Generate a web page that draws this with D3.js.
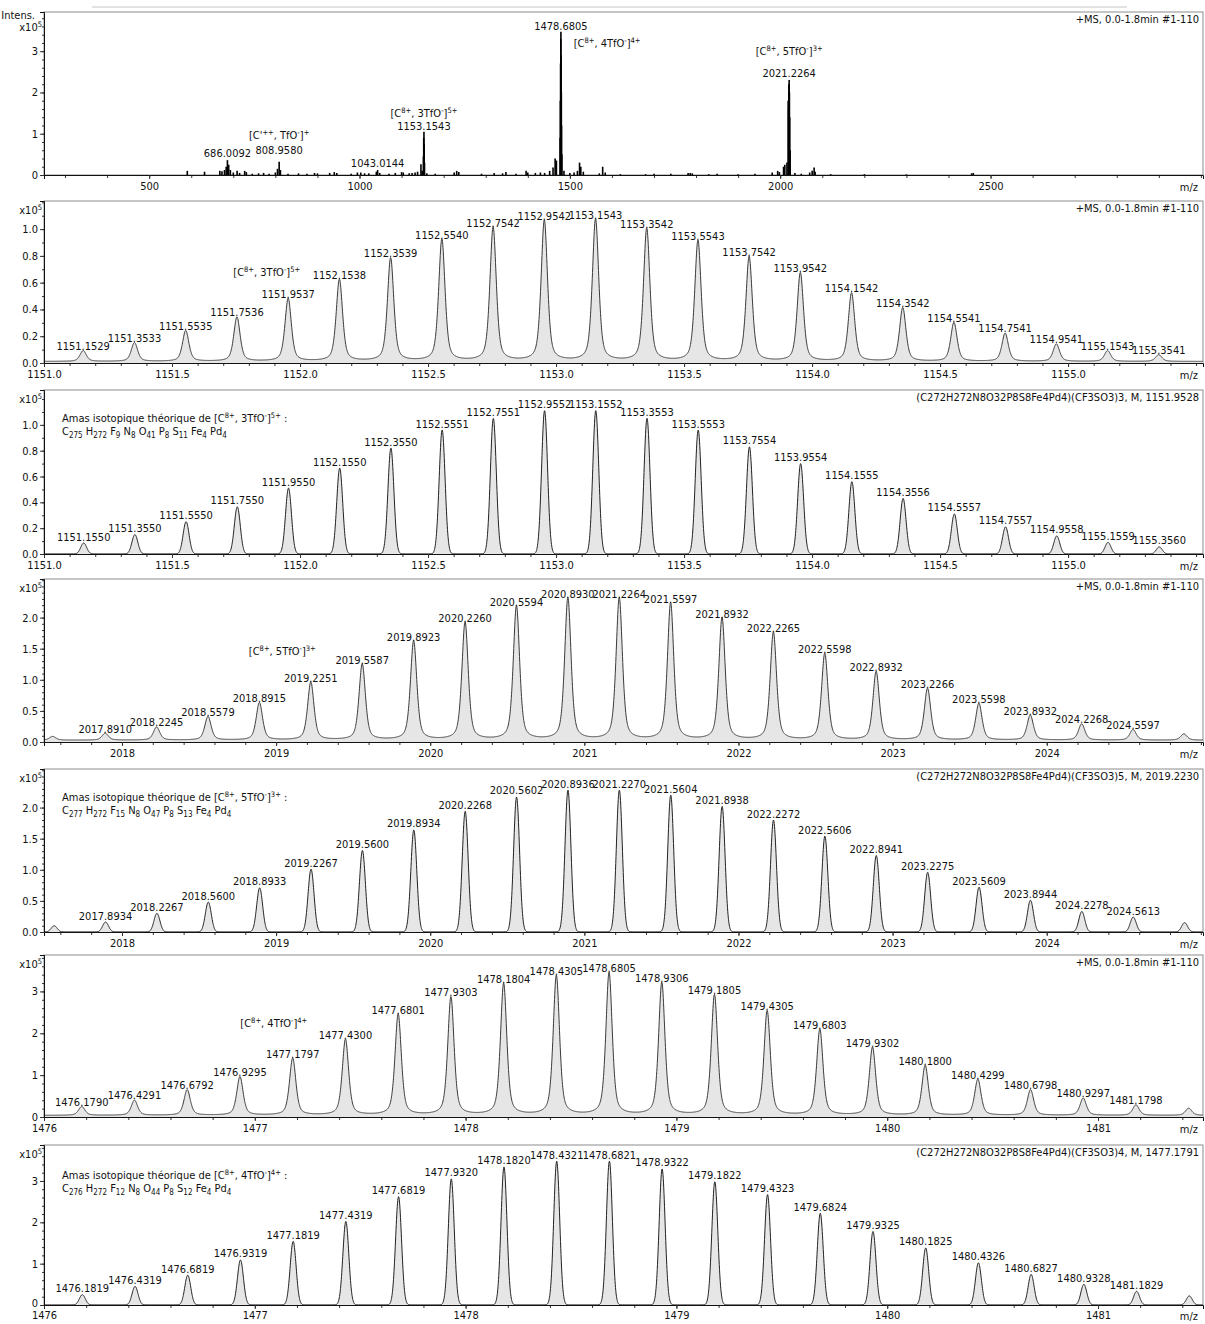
<!DOCTYPE html>
<html><head><meta charset="utf-8">
<script src="https://cdn.jsdelivr.net/npm/d3@7"></script>
<style>
body{margin:0;background:#fff}
svg text{font-family:"DejaVu Sans Condensed","Liberation Sans",sans-serif;font-size:11px;fill:#111}
</style>
</head><body>
<svg id="c" width="1205" height="1324"></svg>
<script>
// ---------------- DATA ----------------
// Panel 1: full spectrum (m/z, intensity x1e5)
const ovMz = [590.6,631.6,668,673,679,683,686.0,689,693,700,709,715,727,731,745,760,772,785,800,805,809.0,812,830,855,875,893,900,929,940,946,980,995,1003,1012,1022,1040,1043.0,1048,1070,1085,1100,1104,1118,1125,1132,1138,1146,1149,1151.9,1152.6,1153.15,1153.8,1154.5,1160,1180,1225,1231,1236,1290,1320,1340,1348,1372,1396,1400,1418,1430,1440,1452,1460,1465,1468,1476.9,1477.4,1477.9,1478.4,1478.68,1479.2,1479.7,1480.2,1481,1486,1500,1510,1518,1523,1526,1532,1570,1578,1584,1620,1680,1700,1740,1781,1786,1791,1830,1850,1900,1940,1981,1994,1998,2008,2011,2016,2018.9,2019.9,2020.6,2021.23,2021.9,2022.6,2023.6,2035,2050,2070,2076,2080.6,2083,2120,2200,2300,2455,2459];
const ovInt = [0.10,0.08,0.10,0.09,0.12,0.20,0.36,0.25,0.12,0.06,0.10,0.05,0.10,0.07,0.03,0.04,0.05,0.03,0.06,0.15,0.32,0.12,0.03,0.04,0.03,0.05,0.04,0.05,0.07,0.05,0.03,0.06,0.06,0.04,0.04,0.08,0.12,0.05,0.03,0.05,0.07,0.06,0.04,0.05,0.06,0.08,0.26,0.10,0.45,0.90,1.05,0.75,0.30,0.04,0.03,0.06,0.10,0.07,0.03,0.05,0.04,0.07,0.03,0.10,0.06,0.05,0.06,0.05,0.10,0.18,0.40,0.35,0.90,1.80,2.70,3.30,3.47,2.90,2.00,1.20,0.50,0.10,0.05,0.06,0.10,0.30,0.20,0.08,0.04,0.20,0.06,0.02,0.02,0.03,0.03,0.05,0.05,0.04,0.02,0.03,0.02,0.03,0.06,0.10,0.07,0.20,0.25,0.30,1.80,1.60,2.20,2.30,2.00,1.40,0.60,0.05,0.03,0.06,0.10,0.18,0.08,0.02,0.02,0.015,0.04,0.05];
const ovLabelMz = [686.0092,808.958,808.958,1043.0144,1153.1543,1153.1543,1478.6805,1509,2021.2264,2021.2264];
const ovLabelY  = [0.44,0.51,0.87,0.19,1.09,1.40,3.52,3.10,2.37,2.91];
const ovLabelText = ["686.0092","808.9580","[C'{++}, TfO{-}]{+}","1043.0144","1153.1543","[C{8+}, 3TfO{-}]{5+}","1478.6805","[C{8+}, 4TfO{-}]{4+}","2021.2264","[C{8+}, 5TfO{-}]{3+}"];
const ovLabelAnchor = ["middle","middle","middle","middle","middle","middle","middle","start","middle","middle"];

// Panel 2: experimental [C8+,3TfO-]5+
const p2Mz = [1151.1529,1151.3533,1151.5535,1151.7536,1151.9537,1152.1538,1152.3539,1152.5540,1152.7542,1152.9542,1153.1543,1153.3542,1153.5543,1153.7542,1153.9542,1154.1542,1154.3542,1154.5541,1154.7541,1154.9541,1155.1543,1155.3541];
const p2Int = [0.08,0.14,0.23,0.33,0.47,0.61,0.77,0.91,1.00,1.05,1.06,0.99,0.90,0.78,0.66,0.51,0.40,0.29,0.21,0.13,0.08,0.05];
// Panel 3: theoretical [C8+,3TfO-]5+
const p3Mz = [1151.1550,1151.3550,1151.5550,1151.7550,1151.9550,1152.1550,1152.3550,1152.5551,1152.7551,1152.9552,1153.1552,1153.3553,1153.5553,1153.7554,1153.9554,1154.1555,1154.3556,1154.5557,1154.7557,1154.9558,1155.1559,1155.3560];
const p3Int = [0.085,0.15,0.25,0.365,0.51,0.665,0.82,0.96,1.05,1.11,1.11,1.05,0.96,0.83,0.70,0.56,0.43,0.31,0.21,0.14,0.09,0.055];
// Panel 4: experimental [C8+,5TfO-]3+
const p4Mz = [2017.55,2017.8910,2018.2245,2018.5579,2018.8915,2019.2251,2019.5587,2019.8923,2020.2260,2020.5594,2020.8930,2021.2264,2021.5597,2021.8932,2022.2265,2022.5598,2022.8932,2023.2266,2023.5598,2023.8932,2024.2268,2024.5597,2024.89];
const p4Int = [0.06,0.11,0.21,0.38,0.60,0.93,1.22,1.59,1.89,2.15,2.28,2.28,2.20,1.96,1.73,1.39,1.10,0.83,0.59,0.40,0.26,0.17,0.10];
const p4Lab = [false,true,true,true,true,true,true,true,true,true,true,true,true,true,true,true,true,true,true,true,true,true,false];
// Panel 5: theoretical [C8+,5TfO-]3+
const p5Mz = [2017.56,2017.8934,2018.2267,2018.5600,2018.8933,2019.2267,2019.5600,2019.8934,2020.2268,2020.5602,2020.8936,2021.2270,2021.5604,2021.8938,2022.2272,2022.5606,2022.8941,2023.2275,2023.5609,2023.8944,2024.2278,2024.5613,2024.8946];
const p5Int = [0.10,0.16,0.30,0.48,0.71,1.01,1.31,1.64,1.94,2.17,2.28,2.28,2.20,2.02,1.80,1.54,1.23,0.96,0.72,0.51,0.33,0.24,0.15];
const p5Lab = [false,true,true,true,true,true,true,true,true,true,true,true,true,true,true,true,true,true,true,true,true,true,false];
// Panel 6: experimental [C8+,4TfO-]4+
const p6Mz = [1476.1790,1476.4291,1476.6792,1476.9295,1477.1797,1477.4300,1477.6801,1477.9303,1478.1804,1478.4305,1478.6805,1478.9306,1479.1805,1479.4305,1479.6803,1479.9302,1480.1800,1480.4299,1480.6798,1480.9297,1481.1798,1481.43];
const p6Int = [0.21,0.36,0.61,0.92,1.36,1.81,2.41,2.82,3.14,3.33,3.40,3.16,2.87,2.49,2.05,1.62,1.19,0.86,0.61,0.41,0.25,0.17];
const p6Lab = [true,true,true,true,true,true,true,true,true,true,true,true,true,true,true,true,true,true,true,true,true,false];
// Panel 7: theoretical [C8+,4TfO-]4+
const p7Mz = [1476.1819,1476.4319,1476.6819,1476.9319,1477.1819,1477.4319,1477.6819,1477.9320,1478.1820,1478.4321,1478.6821,1478.9322,1479.1822,1479.4323,1479.6824,1479.9325,1480.1825,1480.4326,1480.6827,1480.9328,1481.1829,1481.4330];
const p7Int = [0.25,0.45,0.72,1.09,1.54,2.02,2.62,3.05,3.34,3.48,3.48,3.29,2.98,2.67,2.22,1.78,1.38,1.02,0.74,0.50,0.33,0.22];
const p7Lab = [true,true,true,true,true,true,true,true,true,true,true,true,true,true,true,true,true,true,true,true,true,false];

// Axis ticks
const p1XTicks = [500,1000,1500,2000,2500];
const p1YTicks = [0,1,2,3];
const p23XTicks = [1151.0,1151.5,1152.0,1152.5,1153.0,1153.5,1154.0,1154.5,1155.0];
const p23YTicks = [0.0,0.2,0.4,0.6,0.8,1.0];
const p45XTicks = [2018,2019,2020,2021,2022,2023,2024];
const p45YTicks = [0.0,0.5,1.0,1.5,2.0];
const p67XTicks = [1476,1477,1478,1479,1480,1481];
const p67YTicks = [0,1,2,3];

// Header texts
const msHeader = "+MS, 0.0-1.8min #1-110";
const th3Header = "(C272H272N8O32P8S8Fe4Pd4)(CF3SO3)3, M, 1151.9528";
const th5Header = "(C272H272N8O32P8S8Fe4Pd4)(CF3SO3)5, M, 2019.2230";
const th4Header = "(C272H272N8O32P8S8Fe4Pd4)(CF3SO3)4, M, 1477.1791";
const amas3 = "Amas isotopique théorique de [C{8+}, 3TfO{-}]{5+} :";
const amas5 = "Amas isotopique théorique de [C{8+}, 5TfO{-}]{3+} :";
const amas4 = "Amas isotopique théorique de [C{8+}, 4TfO{-}]{4+} :";
const form3 = "C275 H272 F9 N8 O41 P8 S11 Fe4 Pd4";
const form5 = "C277 H272 F15 N8 O47 P8 S13 Fe4 Pd4";
const form4 = "C276 H272 F12 N8 O44 P8 S12 Fe4 Pd4";
const ion3 = "[C{8+}, 3TfO{-}]{5+}";
const ion5 = "[C{8+}, 5TfO{-}]{3+}";
const ion4 = "[C{8+}, 4TfO{-}]{4+}";

// ---------------- DRAWING ----------------
const svg = d3.select("#c");
const LEFT = 44, RIGHT = 1203;

function richSup(sel, str){
  const re = /([^{}]+)|\{([^}]*)\}/g; let m, shift = 0;
  while((m = re.exec(str))){
    if(m[1] !== undefined){ sel.append("tspan").attr("dy", -shift).text(m[1]); shift = 0; }
    else { const t = -4; sel.append("tspan").attr("dy", t - shift).style("font-size","7.5px").text(m[2]); shift = t; }
  }
}
function richSub(sel, str){
  const re = /([^0-9]+)|([0-9]+)/g; let m, shift = 0;
  while((m = re.exec(str))){
    if(m[1] !== undefined){ sel.append("tspan").attr("dy", -shift).text(m[1]); shift = 0; }
    else { const t = 2.5; sel.append("tspan").attr("dy", t - shift).style("font-size","8px").text(m[2]); shift = t; }
  }
}

function frame(cfg){
  const x = d3.scaleLinear().domain(cfg.xDomain).range([LEFT, RIGHT]);
  const y = d3.scaleLinear().domain(cfg.yDomain).range([cfg.bottom, cfg.top]);
  const pad = cfg.pad === undefined ? 3 : cfg.pad;
  const g = svg.append("g");
  g.append("rect").attr("x",LEFT).attr("y",cfg.top).attr("width",RIGHT-LEFT).attr("height",cfg.bottom-cfg.top)
    .attr("fill","none").attr("stroke","#8c8c8c").attr("stroke-width",1);
  const clipId = "clip"+cfg.top;
  svg.append("clipPath").attr("id",clipId).append("rect").attr("x",LEFT).attr("y",cfg.top).attr("width",RIGHT-LEFT).attr("height",cfg.bottom-cfg.top);
  const plot = g.append("g").attr("clip-path","url(#"+clipId+")");
  const xMinor = d3.range(Math.ceil(cfg.xDomain[0]/cfg.xMinor)*cfg.xMinor, cfg.xDomain[1], cfg.xMinor);
  const yMinor = d3.range(0, cfg.yDomain[1], cfg.yMinor);
  const ax = g.append("g").attr("transform",`translate(0,${cfg.bottom})`);
  ax.append("g").call(d3.axisBottom(x).tickValues(xMinor).tickSize(3).tickFormat("")).call(s=>s.select(".domain").remove());
  ax.append("g").call(d3.axisBottom(x).tickValues(cfg.xTicks).tickSize(4).tickPadding(pad).tickFormat(cfg.xFmt))
    .call(s=>s.select(".domain").attr("stroke","#111"));
  const ay = g.append("g").attr("transform",`translate(${LEFT},0)`);
  ay.append("g").call(d3.axisLeft(y).tickValues(yMinor).tickSize(2).tickFormat("")).call(s=>s.select(".domain").remove());
  const yMaj = ay.append("g").call(d3.axisLeft(y).tickValues(cfg.yTicks).tickSize(4).tickPadding(2).tickFormat(cfg.yFmt))
    .call(s=>s.select(".domain").attr("stroke","#111"));
  if(cfg.zeroUp) yMaj.selectAll(".tick").filter(d=>d===0).select("text").attr("dy","0.1em");
  g.selectAll(".tick text").attr("fill","#111").style("font-size","11px").style("font-family",null);
  g.selectAll(".tick line").attr("stroke","#333");
  g.append("text").attr("x",1198).attr("y",cfg.bottom+12.5+pad).attr("text-anchor","end").text("m/z");
  const t = g.append("text").attr("x",42).attr("y",cfg.top+cfg.expOff).attr("text-anchor","end");
  richSup(t, "x10{5}");
  g.append("text").attr("x",1199).attr("y",cfg.top+10.5).attr("text-anchor","end").text(cfg.header);
  return {x,y,g,plot};
}

function drawProfile(P, mz, inten, opts){
  const {x,y,plot} = P;
  const ppu = x(x.domain()[0]+1) - x(x.domain()[0]);
  const fw = opts.fwhmPx/ppu;
  const pts = [];
  for(let px=LEFT; px<=RIGHT; px+=0.25){
    const m = x.invert(px);
    let v = opts.base;
    for(let i=0;i<mz.length;i++){
      const d = (m-mz[i])/fw;
      if(Math.abs(d)>40) continue;
      const gs = Math.exp(-4*Math.LN2*d*d), lz = 1/(1+4*d*d);
      v += inten[i]*(opts.eta*lz + (1-opts.eta)*gs);
    }
    pts.push([m,v]);
  }
  plot.append("path").datum(pts)
    .attr("d", d3.area().x(d=>x(d[0])).y0(y(0)).y1(d=>y(d[1])))
    .attr("fill", opts.fill);
  plot.append("path").datum(pts)
    .attr("d", d3.line().x(d=>x(d[0])).y(d=>y(d[1])))
    .attr("fill","none").attr("stroke",opts.stroke).attr("stroke-width",1);
}

function peakLabels(P, mz, inten, show){
  const {x,y,g} = P;
  mz.forEach((m,i)=>{
    if(show && !show[i]) return;
    g.append("text").attr("x",x(m)).attr("y",y(inten[i])-2.5).attr("text-anchor","middle").text(m.toFixed(4));
  });
}

// ---- Panel 1 ----
svg.append("line").attr("x1",92).attr("x2",1127).attr("y1",7).attr("y2",7).attr("stroke","#e2e2e2").attr("stroke-width",2);
{
  const P = frame({top:12,bottom:175,xDomain:[250,3005],yDomain:[0,3.95],xTicks:p1XTicks,yTicks:p1YTicks,
    xMinor:100,yMinor:0.2,xFmt:d3.format("d"),yFmt:d3.format("d"),header:msHeader,expOff:18.5});
  svg.append("text").attr("x",35).attr("y",19).attr("text-anchor","end").text("Intens.");
  P.plot.selectAll("line.pk").data(ovMz).join("line").attr("class","pk")
    .attr("x1",d=>P.x(d)).attr("x2",d=>P.x(d)).attr("y1",P.y(0)).attr("y2",(d,i)=>P.y(ovInt[i]))
    .attr("stroke","#000").attr("stroke-width",1.6);
  ovLabelMz.forEach((m,i)=>{
    const t = P.g.append("text").attr("x",P.x(m)).attr("y",P.y(ovLabelY[i])).attr("text-anchor",ovLabelAnchor[i]);
    richSup(t, ovLabelText[i]);
  });
}
// ---- Panel 2 ----
{
  const P = frame({top:201,bottom:363,xDomain:[1151.0,1155.527],yDomain:[0,1.21],xTicks:p23XTicks,yTicks:p23YTicks,
    xMinor:0.1,yMinor:0.1,xFmt:d3.format(".1f"),yFmt:d3.format(".1f"),header:msHeader,expOff:13});
  drawProfile(P,p2Mz,p2Int,{fwhmPx:7.5,eta:0.5,base:0.012,fill:"#e6e6e6",stroke:"#3a3a3a"});
  peakLabels(P,p2Mz,p2Int,null);
  const t = P.g.append("text").attr("x",P.x(1151.87)).attr("y",P.y(0.65)).attr("text-anchor","middle");
  richSup(t, ion3);
}
// ---- Panel 3 ----
{
  const P = frame({top:390,bottom:554,xDomain:[1151.0,1155.527],yDomain:[0,1.27],xTicks:p23XTicks,yTicks:p23YTicks,
    xMinor:0.1,yMinor:0.1,xFmt:d3.format(".1f"),yFmt:d3.format(".1f"),header:th3Header,expOff:13,pad:3});
  drawProfile(P,p3Mz,p3Int,{fwhmPx:7,eta:0,base:0,fill:"#e6e6e6",stroke:"#222"});
  peakLabels(P,p3Mz,p3Int,null);
  richSup(P.g.append("text").attr("x",62).attr("y",422), amas3);
  richSub(P.g.append("text").attr("x",62).attr("y",435), form3);
}
// ---- Panel 4 ----
{
  const P = frame({top:579,bottom:742,xDomain:[2017.494,2025.014],yDomain:[0,2.62],xTicks:p45XTicks,yTicks:p45YTicks,
    xMinor:0.2,yMinor:0.1,xFmt:d3.format("d"),yFmt:d3.format(".1f"),header:msHeader,expOff:13});
  drawProfile(P,p4Mz,p4Int,{fwhmPx:7.5,eta:0.5,base:0.03,fill:"#e6e6e6",stroke:"#3a3a3a"});
  peakLabels(P,p4Mz,p4Int,p4Lab);
  const t = P.g.append("text").attr("x",P.x(2019.04)).attr("y",P.y(1.40)).attr("text-anchor","middle");
  richSup(t, ion5);
}
// ---- Panel 5 ----
{
  const P = frame({top:769,bottom:932,xDomain:[2017.494,2025.014],yDomain:[0,2.62],xTicks:p45XTicks,yTicks:p45YTicks,
    xMinor:0.2,yMinor:0.1,xFmt:d3.format("d"),yFmt:d3.format(".1f"),header:th5Header,expOff:13});
  drawProfile(P,p5Mz,p5Int,{fwhmPx:7,eta:0,base:0,fill:"#e6e6e6",stroke:"#222"});
  peakLabels(P,p5Mz,p5Int,p5Lab);
  richSup(P.g.append("text").attr("x",62).attr("y",801), amas5);
  richSub(P.g.append("text").attr("x",62).attr("y",814), form5);
}
// ---- Panel 6 ----
{
  const P = frame({top:955,bottom:1117,xDomain:[1476,1481.498],yDomain:[0,3.87],xTicks:p67XTicks,yTicks:p67YTicks,
    xMinor:0.2,yMinor:0.2,xFmt:d3.format("d"),yFmt:d3.format("d"),header:msHeader,expOff:13});
  drawProfile(P,p6Mz,p6Int,{fwhmPx:7.5,eta:0.5,base:0.04,fill:"#e6e6e6",stroke:"#3a3a3a"});
  peakLabels(P,p6Mz,p6Int,p6Lab);
  const t = P.g.append("text").attr("x",P.x(1477.09)).attr("y",P.y(2.15)).attr("text-anchor","middle");
  richSup(t, ion4);
}
// ---- Panel 7 ----
{
  const P = frame({top:1145,bottom:1305,xDomain:[1476,1481.498],yDomain:[0,3.87],xTicks:p67XTicks,yTicks:p67YTicks,
    xMinor:0.2,yMinor:0.2,xFmt:d3.format("d"),yFmt:d3.format("d"),header:th4Header,expOff:13,pad:2,zeroUp:true});
  drawProfile(P,p7Mz,p7Int,{fwhmPx:7,eta:0,base:0,fill:"#e6e6e6",stroke:"#222"});
  peakLabels(P,p7Mz,p7Int,p7Lab);
  richSup(P.g.append("text").attr("x",62).attr("y",1179), amas4);
  richSub(P.g.append("text").attr("x",62).attr("y",1192), form4);
}
</script>
</body></html>
